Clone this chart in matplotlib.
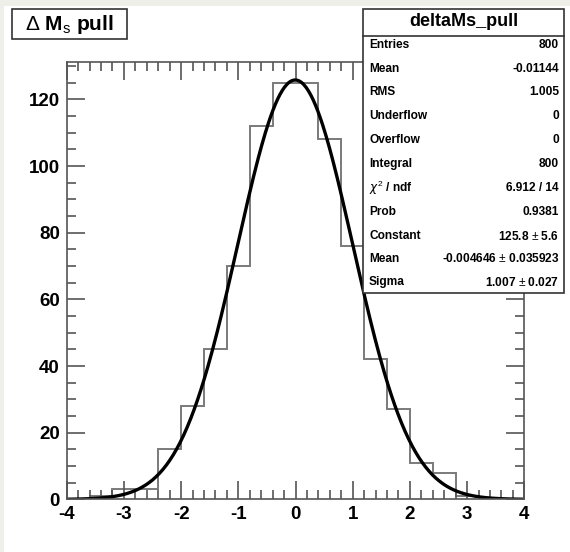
import numpy as np
import matplotlib
matplotlib.use('Agg')
import matplotlib.pyplot as plt
from matplotlib.patches import Rectangle
from matplotlib.ticker import MultipleLocator

# histogram: 20 bins from -4 to 4
bin_edges = [-4.0, -3.6, -3.2, -2.8, -2.4, -2.0, -1.6, -1.2, -0.8, -0.4, 0.0,
             0.4, 0.8, 1.2, 1.6, 2.0, 2.4, 2.8, 3.2, 3.6, 4.0]
counts = [0, 1, 3, 3, 15, 28, 45, 70, 112, 125,
          125, 108, 76, 42, 27, 11, 8, 1, 0, 0]

# gaussian fit parameters
fit_const = 125.8
fit_mean = -0.004646
fit_sigma = 1.007

stat_names = ['Entries', 'Mean', 'RMS', 'Underflow', 'Overflow', 'Integral',
              r'$\chi^2$ / ndf', 'Prob', 'Constant', 'Mean', 'Sigma']
stat_values = ['800', '-0.01144', '1.005', '0', '0', '800', '6.912 / 14',
               '0.9381', r'125.8 $\pm$ 5.6', r'-0.004646 $\pm$ 0.035923',
               r'1.007 $\pm$ 0.027']

plt.rcParams['font.family'] = ['Liberation Sans', 'DejaVu Sans']
plt.rcParams['mathtext.fontset'] = 'custom'
plt.rcParams['mathtext.rm'] = 'Liberation Sans'
plt.rcParams['mathtext.bf'] = 'Liberation Sans:bold'
plt.rcParams['axes.unicode_minus'] = False

W, H = 570, 552
dpi = 100
fig = plt.figure(figsize=(W / dpi, H / dpi), dpi=dpi)
fig.patch.set_facecolor('#efefe9')
fig.patches.append(Rectangle((4 / W, 0), 1, 1 - 6 / H, transform=fig.transFigure,
                             facecolor='white', edgecolor='none', zorder=-5))

ax = fig.add_axes([66.7 / W, 1 - 499.4 / H, (524.3 - 66.7) / W, (499.4 - 62) / H])
ax.set_facecolor('none')
ax.set_xlim(-4, 4)
ax.set_ylim(0, 131.2)

ax.stairs(counts, bin_edges, color='#7a7a7a', linewidth=1.4)

xs = np.linspace(-4, 4, 400)
ax.plot(xs, fit_const * np.exp(-0.5 * ((xs - fit_mean) / fit_sigma) ** 2),
        color='black', linewidth=2.4)

for s in ax.spines.values():
    s.set_color('#555555')
    s.set_linewidth(1.2)

ax.xaxis.set_major_locator(MultipleLocator(1))
ax.xaxis.set_minor_locator(MultipleLocator(0.2))
ax.yaxis.set_major_locator(MultipleLocator(20))
ax.yaxis.set_minor_locator(MultipleLocator(5))
ax.tick_params(which='both', direction='in', top=True, right=True,
               color='#555555', width=1.2)
ax.tick_params(which='major', length=13, labelsize=13.5, pad=5)
ax.tick_params(which='minor', length=6.5)
ax.tick_params(axis='x', which='major', pad=5)
for lab in ax.get_xticklabels() + ax.get_yticklabels():
    lab.set_fontweight('bold')

# title box
fig.patches.append(Rectangle((12 / W, 1 - 39 / H), 115 / W, 30 / H,
                             transform=fig.transFigure, facecolor='white',
                             edgecolor='#333333', linewidth=1.2, zorder=5))
fig.text(69 / W, 1 - 24 / H, r'$\Delta$ M$_{\rm s}$ pull', ha='center', va='center',
         fontsize=15, fontweight='bold', zorder=7)

# stats box
bx0, bx1 = 363, 564
by0, by1 = 9, 293
fig.patches.append(Rectangle((bx0 / W, 1 - by1 / H), (bx1 - bx0) / W, (by1 - by0) / H,
                             transform=fig.transFigure, facecolor='white',
                             edgecolor='#333333', linewidth=1.2, zorder=5))
fig.add_artist(plt.Line2D([bx0 / W, bx1 / W], [1 - 36 / H, 1 - 36 / H],
                          color='#333333', linewidth=1.2, zorder=6))
fig.text((bx0 + bx1) / 2 / W, 1 - 22 / H, 'deltaMs_pull', ha='center', va='center',
         fontsize=13, fontweight='bold', zorder=7)
row_y = [45, 69, 92, 116, 140, 164, 188, 212, 236, 259, 282]
for name, val, ry in zip(stat_names, stat_values, row_y):
    fig.text((bx0 + 6) / W, 1 - ry / H, name, ha='left', va='center',
             fontsize=8.6, fontweight='bold', zorder=7)
    fig.text((bx1 - 5) / W, 1 - ry / H, val, ha='right', va='center',
             fontsize=8.6, fontweight='bold', zorder=7)

fig.savefig('out.png', dpi=dpi)
